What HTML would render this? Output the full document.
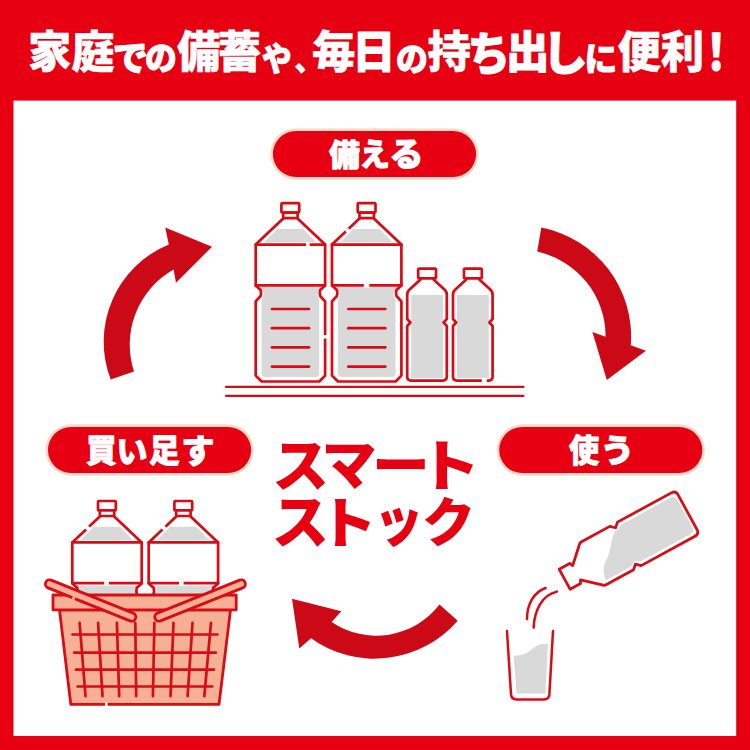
<!DOCTYPE html>
<html lang="ja">
<head>
<meta charset="utf-8">
<title>スマートストック</title>
<style>
html,body{margin:0;padding:0;background:#e60012;}
body{width:750px;height:750px;overflow:hidden;position:relative;}
svg{display:block;position:absolute;left:0;top:0;}
svg text{font-family:"Liberation Sans","Noto Sans CJK JP",sans-serif;font-weight:900;}
</style>
</head>
<body>
<svg width="750" height="750" viewBox="0 0 750 750">
<rect x="0" y="0" width="750" height="750" fill="#e60012"/>
<rect x="13.5" y="100.6" width="722.7" height="635.4" fill="#fff"/>
<text fill="#fff" stroke="#fff" stroke-width="1" stroke-linejoin="round"><tspan x="28.05" y="68.30" font-size="44.50" textLength="43.39" lengthAdjust="spacingAndGlyphs" stroke-width="0.5">家</tspan><tspan x="71.13" y="68.30" font-size="44.50" textLength="43.39" lengthAdjust="spacingAndGlyphs" stroke-width="0.5">庭</tspan><tspan x="112.71" y="71.06" font-size="35.34">で</tspan><tspan x="145.11" y="70.17" font-size="33.33" textLength="31.80" lengthAdjust="spacingAndGlyphs">の</tspan><tspan x="177.07" y="68.30" font-size="44.50" textLength="43.39" lengthAdjust="spacingAndGlyphs" stroke-width="0.5">備</tspan><tspan x="217.83" y="68.30" font-size="44.50" textLength="43.39" lengthAdjust="spacingAndGlyphs" stroke-width="0.5">蓄</tspan><tspan x="262.11" y="70.87" font-size="32.43" textLength="29.51" lengthAdjust="spacingAndGlyphs">や</tspan><tspan x="294.85" y="71.15" font-size="28.62" textLength="27.06" lengthAdjust="spacingAndGlyphs">、</tspan><tspan x="312.00" y="68.30" font-size="44.50" textLength="43.39" lengthAdjust="spacingAndGlyphs" stroke-width="0.5">毎</tspan><tspan x="352.23" y="68.30" font-size="44.50" textLength="43.39" lengthAdjust="spacingAndGlyphs">日</tspan><tspan x="395.91" y="70.67" font-size="33.33" textLength="31.80" lengthAdjust="spacingAndGlyphs">の</tspan><tspan x="427.43" y="68.30" font-size="44.50" textLength="43.39" lengthAdjust="spacingAndGlyphs" stroke-width="0.5">持</tspan><tspan x="467.43" y="70.01" font-size="46.02" textLength="42.69" lengthAdjust="spacingAndGlyphs">ち</tspan><tspan x="505.88" y="68.30" font-size="44.50" textLength="43.39" lengthAdjust="spacingAndGlyphs">出</tspan><tspan x="541.88" y="69.82" font-size="46.36" textLength="45.75" lengthAdjust="spacingAndGlyphs">し</tspan><tspan x="584.59" y="70.86" font-size="32.74">に</tspan><tspan x="617.43" y="68.30" font-size="44.50" textLength="43.39" lengthAdjust="spacingAndGlyphs" stroke-width="0.5">便</tspan><tspan x="660.83" y="68.30" font-size="44.50" textLength="43.39" lengthAdjust="spacingAndGlyphs" stroke-width="0.5">利</tspan><tspan x="696.30" y="69.50" font-size="50.39" textLength="40.00" lengthAdjust="spacingAndGlyphs">！</tspan></text>
<path d="M110.7 379.5 A105.3 105.3 0 0 1 168.8 244.4 L165.2 227.6 212.0 246.8 176.0 282.8 L173.6 269.6 A86.4 86.4 0 0 0 134.0 371.6 Z" fill="#cc0a17"/>
<path d="M541.3 227.6 A111.0 111.0 0 0 1 630.8 345.2 L645.9 350.7 606.8 380.0 592.4 332.0 L605.6 336.8 A86.9 86.9 0 0 0 537.2 251.6 Z" fill="#cc0a17"/>
<path d="M457.7 620.7 A109.8 109.8 0 0 1 311.0 638.3 L299.3 648.5 292.0 598.7 341.3 611.3 L331.6 622.1 A79.8 79.8 0 0 0 439.5 604.5 Z" fill="#cc0a17"/>
<path d="M226 386.9 H523.5 M226 395.8 H523.5" stroke="#d90b14" stroke-width="2.2" stroke-linecap="round" fill="none"/>
<g transform="translate(0.0 0.0)" fill="none" stroke="#d90b14" stroke-width="2.7" stroke-linejoin="round" stroke-linecap="round"><path d="M277 229 L303.4 229 L316.4 242.4 L264 242.4 Z" fill="#d9d9d9" stroke="none"/><path d="M261 287 H320 V290 L317 293 L319.2 300.5 V373 Q319.2 377 315.2 377 H265.6 Q261.6 377 261.6 373 V300.5 L264 293 L261 290 Z" fill="#d9d9d9" stroke="none"/><path d="M272 309.0 H309"/><path d="M272 328.2 H309"/><path d="M272 347.4 H309"/><path d="M272 366.6 H309"/><path d="M283.2 218.6 L255.7 244.6 V285.6 L260.6 290 Q261.4 293 260.6 296 L255.7 301.4 V375.6 L261.7 381.5 H319.3 L325.1 375.6 V301.4 L320.2 296 Q319.4 293 320.2 290 L325.1 285.6 V244.6 L297.6 218.6"/><path d="M255.7 244.6 H325.1 M255.7 285.4 H325.1"/><rect x="281.4" y="203.2" width="17.8" height="9.4" rx="1" fill="#fff"/><rect x="283.2" y="212.6" width="14.4" height="5.6" rx="0.6" fill="#fff"/><path d="M306.0 244.7 L309.6 244.7" stroke="#fff" stroke-width="4" stroke-linecap="butt"/><path d="M325.2 335.0 L325.2 338.5" stroke="#fff" stroke-width="4" stroke-linecap="butt"/></g>
<g transform="translate(76.3 0.0)" fill="none" stroke="#d90b14" stroke-width="2.7" stroke-linejoin="round" stroke-linecap="round"><path d="M277 229 L303.4 229 L316.4 242.4 L264 242.4 Z" fill="#d9d9d9" stroke="none"/><path d="M261 287 H320 V290 L317 293 L319.2 300.5 V373 Q319.2 377 315.2 377 H265.6 Q261.6 377 261.6 373 V300.5 L264 293 L261 290 Z" fill="#d9d9d9" stroke="none"/><path d="M272 309.0 H309"/><path d="M272 328.2 H309"/><path d="M272 347.4 H309"/><path d="M272 366.6 H309"/><path d="M283.2 218.6 L255.7 244.6 V285.6 L260.6 290 Q261.4 293 260.6 296 L255.7 301.4 V375.6 L261.7 381.5 H319.3 L325.1 375.6 V301.4 L320.2 296 Q319.4 293 320.2 290 L325.1 285.6 V244.6 L297.6 218.6"/><path d="M255.7 244.6 H325.1 M255.7 285.4 H325.1"/><rect x="281.4" y="203.2" width="17.8" height="9.4" rx="1" fill="#fff"/><rect x="283.2" y="212.6" width="14.4" height="5.6" rx="0.6" fill="#fff"/><path d="M270.0 232.0 L273.0 229.3" stroke="#fff" stroke-width="4" stroke-linecap="butt"/><path d="M287.5 285.5 L293.0 285.5" stroke="#fff" stroke-width="4" stroke-linecap="butt"/></g>
<g transform="translate(0.0 0)" fill="none" stroke="#d90b14" stroke-width="2.7" stroke-linejoin="round" stroke-linecap="round"><rect x="411.2" y="295" width="31.8" height="83" fill="#d9d9d9" stroke="none"/><path d="M420.5 279.5 L409 290 Q407.2 291.8 407.2 295 V319 L410.4 322.5 L407.2 326 V376.6 Q407.2 380.6 411.2 380.6 H442.8 Q446.8 380.6 446.8 376.6 V326 L443.6 322.5 L446.8 319 V295 Q446.8 291.8 445 290 L433.5 279.5"/><rect x="418.2" y="268.6" width="17.8" height="9.8" rx="1" fill="#fff"/></g>
<g transform="translate(45.8 0)" fill="none" stroke="#d90b14" stroke-width="2.7" stroke-linejoin="round" stroke-linecap="round"><rect x="411.2" y="295" width="31.8" height="83" fill="#d9d9d9" stroke="none"/><path d="M420.5 279.5 L409 290 Q407.2 291.8 407.2 295 V319 L410.4 322.5 L407.2 326 V376.6 Q407.2 380.6 411.2 380.6 H442.8 Q446.8 380.6 446.8 376.6 V326 L443.6 322.5 L446.8 319 V295 Q446.8 291.8 445 290 L433.5 279.5"/><rect x="418.2" y="268.6" width="17.8" height="9.8" rx="1" fill="#fff"/><path d="M436.0 380.6 L441.0 380.6" stroke="#fff" stroke-width="4" stroke-linecap="butt"/></g>
<g transform="translate(-183.4 297.8)" fill="none" stroke="#d90b14" stroke-width="2.7" stroke-linejoin="round" stroke-linecap="round"><path d="M277 229 L303.4 229 L316.4 242.4 L264 242.4 Z" fill="#d9d9d9" stroke="none"/><path d="M260 288 H321 V296 H260 Z" fill="#d9d9d9" stroke="none"/><path d="M283.2 218.6 L255.7 244.6 V285.6 L260.6 290 Q261.4 293 260.6 296 M320.2 296 Q319.4 293 320.2 290 L325.1 285.6 V244.6 L297.6 218.6"/><path d="M255.7 244.6 H325.1 M255.7 285.4 H325.1"/><rect x="281.4" y="203.2" width="17.8" height="9.4" rx="1" fill="#fff"/><rect x="283.2" y="212.6" width="14.4" height="5.6" rx="0.6" fill="#fff"/><path d="M269.3 231.4 L272.2 228.6" stroke="#fff" stroke-width="4" stroke-linecap="butt"/><path d="M287.6 285.4 L292.2 285.4" stroke="#fff" stroke-width="4" stroke-linecap="butt"/></g>
<g transform="translate(-107.0 297.8)" fill="none" stroke="#d90b14" stroke-width="2.7" stroke-linejoin="round" stroke-linecap="round"><path d="M277 229 L303.4 229 L316.4 242.4 L264 242.4 Z" fill="#d9d9d9" stroke="none"/><path d="M260 288 H321 V296 H260 Z" fill="#d9d9d9" stroke="none"/><path d="M283.2 218.6 L255.7 244.6 V285.6 L260.6 290 Q261.4 293 260.6 296 M320.2 296 Q319.4 293 320.2 290 L325.1 285.6 V244.6 L297.6 218.6"/><path d="M255.7 244.6 H325.1 M255.7 285.4 H325.1"/><rect x="281.4" y="203.2" width="17.8" height="9.4" rx="1" fill="#fff"/><rect x="283.2" y="212.6" width="14.4" height="5.6" rx="0.6" fill="#fff"/><path d="M269.3 231.4 L272.2 228.6" stroke="#fff" stroke-width="4" stroke-linecap="butt"/><path d="M286.0 285.4 L290.6 285.4" stroke="#fff" stroke-width="4" stroke-linecap="butt"/></g>
<g stroke="#d90b14" stroke-width="2.8" stroke-linejoin="round" stroke-linecap="round" fill="#f5b095"><path d="M59.5 609.8 L70.8 704.4 H219 L230.5 609.8 Z"/><rect x="53" y="595" width="183.2" height="14.8"/><path d="M79.6 622.8 L85.5 696.1 M98.1 622.8 L102.5 696.1 M116.9 622.8 L119.2 696.1 M135.3 622.8 L136.2 696.1 M154.4 622.8 L152.9 696.1 M173.5 622.8 L170.5 696.1 M192.5 622.8 L187.6 696.1 M211.0 622.8 L204.3 696.1 M72.5 634.5 H217.5 M74.2 652.7 H215.8 M76.0 669.7 H214.0 M77.6 686.5 H212.4 " fill="none" stroke-width="2.7"/><rect x="-4.2" y="-4.2" width="96.8" height="8.4" rx="4.2" transform="translate(49.6 584.0) rotate(21.92)"/><rect x="-4.2" y="-4.2" width="97.0" height="8.4" rx="4.2" transform="translate(241.2 584.0) rotate(158.13)"/><path d="M72.3 597.5 L75 598.6" stroke="#f5b095" stroke-width="3.6" stroke-linecap="butt" fill="none"/><path d="M105 704.4 H107.6" stroke="#fff" stroke-width="3.6" stroke-linecap="butt" fill="none"/></g>
<path d="M513.6 656 C522 655 526 654 531 650 C536 646 540 643 548 644 L545.4 693.4 H516.6 Z" fill="#d9d9d9"/>
<path d="M507 631 L511 694.4 Q511.4 699.4 516.4 699.4 H544 Q549 699.4 549.4 694.4 L553 631" fill="none" stroke="#d90b14" stroke-width="2.5" stroke-linecap="round" stroke-linejoin="round"/>
<path d="M545.6 588 C534 592 527 604 527 619 M557 591.6 C542 595 534.5 610 533.6 627.6" fill="none" stroke="#d90b14" stroke-width="2.5" stroke-linecap="round"/>
<g transform="translate(564.6 579.2) rotate(-118.6) scale(1.25)" fill="none" stroke="#d90b14" stroke-width="2.2" stroke-linejoin="round" stroke-linecap="round"><path d="M14.6 54 C10 47 2 44 -3 36 C-6 31 -12 29 -16.6 28.4 V51.6 L-14 56 L-16.6 60.4 V105.5 Q-16.6 109.5 -12.6 109.5 H12.6 Q16.6 109.5 16.6 105.5 V60.4 L14 56 Z" fill="#d9d9d9" stroke="none"/><path d="M-6.5 10.9 L-9.1 9.6 L-9.1 0 L9.1 0 L9.1 9.6 L6.5 10.9 L19 24 Q19.8 24.8 19.8 26.2 V52 L16.6 55.5 L19.8 59 V108 Q19.8 112 15.8 112 H-15.8 Q-19.8 112 -19.8 108 V59 L-16.6 55.5 L-19.8 52 V27 Q-19.8 25.6 -19 24.8 Z"/></g>
<rect x="270.30" y="128.40" width="208.40" height="51.30" rx="25.65" fill="#fbd9c8"/><rect x="272.90" y="131.00" width="203.20" height="46.10" rx="23.05" fill="#e60012"/><text fill="#fff" stroke="#fff" stroke-width="0.9" stroke-linejoin="round"><tspan x="329.09" y="165.90" font-size="30.99">備</tspan><tspan x="359.27" y="166.16" font-size="31.46" textLength="30.84" lengthAdjust="spacingAndGlyphs">え</tspan><tspan x="389.22" y="166.35" font-size="33.10" textLength="34.36" lengthAdjust="spacingAndGlyphs">る</tspan></text>
<rect x="45.40" y="424.30" width="208.30" height="51.40" rx="25.70" fill="#fbd9c8"/><rect x="48.00" y="426.90" width="203.10" height="46.20" rx="23.10" fill="#e60012"/><text fill="#fff" stroke="#fff" stroke-width="0.9" stroke-linejoin="round"><tspan x="86.08" y="461.85" font-size="31.48" textLength="30.69" lengthAdjust="spacingAndGlyphs">買</tspan><tspan x="116.46" y="463.05" font-size="31.79" textLength="30.93" lengthAdjust="spacingAndGlyphs">い</tspan><tspan x="149.08" y="462.11" font-size="32.09" textLength="30.69" lengthAdjust="spacingAndGlyphs">足</tspan><tspan x="181.17" y="463.00" font-size="33.37">す</tspan></text>
<rect x="496.60" y="424.30" width="208.30" height="51.40" rx="25.70" fill="#fbd9c8"/><rect x="499.20" y="426.90" width="203.10" height="46.20" rx="23.10" fill="#e60012"/><text fill="#fff" stroke="#fff" stroke-width="0.9" stroke-linejoin="round"><tspan x="569.10" y="461.88" font-size="31.25" textLength="30.20" lengthAdjust="spacingAndGlyphs">使</tspan><tspan x="600.37" y="462.18" font-size="32.22" textLength="34.29" lengthAdjust="spacingAndGlyphs">う</tspan></text>
<text fill="#e60012"><tspan x="272.32" y="485.88" font-size="56.79">ス</tspan><tspan x="321.57" y="483.88" font-size="55.00">マ</tspan><tspan x="372.08" y="485.37" font-size="53.68" textLength="57.83" lengthAdjust="spacingAndGlyphs">ー</tspan><tspan x="417.81" y="485.61" font-size="55.76" textLength="62.71" lengthAdjust="spacingAndGlyphs">ト</tspan></text><text fill="#e60012"><tspan x="271.78" y="542.81" font-size="58.02" textLength="57.23" lengthAdjust="spacingAndGlyphs">ス</tspan><tspan x="317.80" y="543.24" font-size="55.29" textLength="59.32" lengthAdjust="spacingAndGlyphs">ト</tspan><tspan x="374.09" y="541.19" font-size="55.32" textLength="49.33" lengthAdjust="spacingAndGlyphs">ッ</tspan><tspan x="422.06" y="541.74" font-size="53.26">ク</tspan></text>
</svg>
</body>
</html>
